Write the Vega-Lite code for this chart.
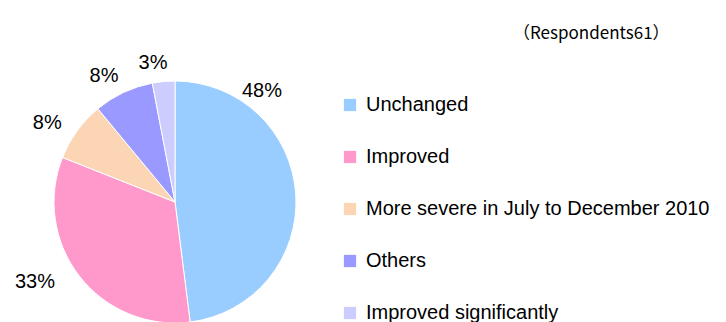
{
  "$schema": "https://vega.github.io/schema/vega-lite/v6.json",
  "width": 350,
  "height": 240,
  "autosize": "none",
  "padding": {"left": 0, "top": 82, "right": 376, "bottom": 0},
  "background": "white",
  "config": {"view": {"stroke": null}},
  "title": {
    "text": "（Respondents61）",
    "font": "Noto Sans CJK JP",
    "fontSize": 17,
    "fontWeight": "normal",
    "color": "black",
    "anchor": "start",
    "frame": "group",
    "dx": 513,
    "baseline": "middle",
    "offset": 2
  },
  "data": {
    "values": [
      {"category": "Unchanged", "share": 0.48, "order": 1},
      {"category": "Improved", "share": 0.33, "order": 2},
      {"category": "More severe in July to December 2010", "share": 0.08, "order": 3},
      {"category": "Others", "share": 0.08, "order": 4},
      {"category": "Improved significantly", "share": 0.03, "order": 5}
    ]
  },
  "encoding": {
    "theta": {"field": "share", "type": "quantitative", "stack": true},
    "order": {"field": "order", "type": "quantitative"}
  },
  "layer": [
    {
      "mark": {"type": "arc", "outerRadius": 121, "stroke": "white", "strokeWidth": 1},
      "encoding": {
        "color": {
          "field": "category",
          "type": "nominal",
          "sort": null,
          "scale": {
            "domain": ["Unchanged", "Improved", "More severe in July to December 2010", "Others", "Improved significantly"],
            "range": ["#99CCFF", "#FF99CC", "#FCD5B5", "#9999FF", "#CCCCFF"]
          },
          "legend": {
            "title": null,
            "orient": "none",
            "legendX": 340,
            "legendY": 13,
            "symbolType": "square",
            "symbolSize": 150,
            "symbolStrokeWidth": 0,
            "labelFont": "Liberation Sans",
            "labelFontSize": 20,
            "labelColor": "black",
            "labelOffset": 6,
            "labelLimit": 400,
            "rowPadding": 32
          }
        }
      }
    },
    {
      "mark": {"type": "text", "radius": 148, "dx": -8, "dy": 8, "font": "Liberation Sans", "fontSize": 20, "color": "black"},
      "encoding": {
        "detail": {"field": "category"},
        "text": {
          "condition": {"test": "datum.order <= 2", "value": ""},
          "field": "share", "type": "quantitative", "format": ".0%"
        }
      }
    },
    {
      "mark": {"type": "text", "radius": 0, "dx": 87, "dy": -111, "font": "Liberation Sans", "fontSize": 20, "color": "black"},
      "encoding": {
        "detail": {"field": "category"},
        "text": {
          "condition": {"test": "datum.order !== 1", "value": ""},
          "field": "share", "type": "quantitative", "format": ".0%"
        }
      }
    },
    {
      "mark": {"type": "text", "radius": 0, "dx": -140, "dy": 80, "font": "Liberation Sans", "fontSize": 20, "color": "black"},
      "encoding": {
        "detail": {"field": "category"},
        "text": {
          "condition": {"test": "datum.order !== 2", "value": ""},
          "field": "share", "type": "quantitative", "format": ".0%"
        }
      }
    }
  ]
}
